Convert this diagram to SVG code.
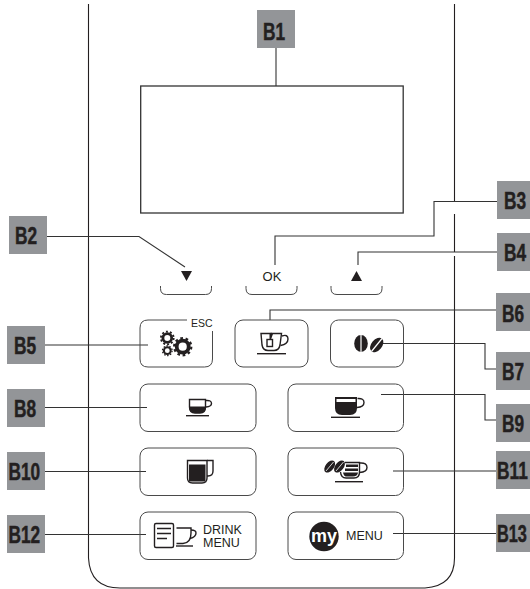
<svg xmlns="http://www.w3.org/2000/svg" width="530" height="589" viewBox="0 0 530 589">
<style>
.lb{fill:#939598}
.lt{font-family:"Liberation Sans",Arial,sans-serif;font-weight:700;font-size:24px;fill:#231f20;stroke:#231f20;stroke-width:.5}
.ln{fill:none;stroke:#333;stroke-width:1.1}
.out{fill:none;stroke:#231f20;stroke-width:1.1}
.btn{fill:none;stroke:#4a4a4a;stroke-width:1}
.tx{font-family:"Liberation Sans",Arial,sans-serif;fill:#231f20}
.ic{fill:none;stroke:#231f20;stroke-width:1.4}
.d{fill:#231f20}
.w{fill:none;stroke:#fff}
</style>
<defs>
<rect id="box" class="lb" width="38" height="38"/>
<rect id="boxr" class="lb" width="34" height="38"/>
<path id="br" class="btn" d="M0 286v2.500q0 6 6 6h39q6 0 6-6V286"/>
</defs>
<g id="device">
<path class="out" d="M88.500 4V558Q90 588 120 588H425Q454.500 586 454.500 558V256M454.500 252V214M454.500 201V4"/>
<rect x="140.700" y="86" width="262.500" height="127" fill="none" stroke="#333" stroke-width="1.300"/>
</g>
<g id="connectors">
<path class="ln" d="M276 48V86"/>
<path class="ln" d="M47 236.500H139L185 267"/>
<path class="ln" d="M497 201.500H434V236H275V265"/>
<path class="ln" d="M497 252H358V265"/>
<path class="ln" d="M45 345H148"/>
<path class="ln" d="M496 310H270V320"/>
<path class="ln" d="M383 343.500H485V369H496"/>
<path class="ln" d="M45 407.500H147"/>
<path class="ln" d="M381 394.500H485V420H496"/>
<path class="ln" d="M45 471.500H146"/>
<path class="ln" d="M393 471H496"/>
<path class="ln" d="M45 534.500H146"/>
<path class="ln" d="M393 533.500H496"/>
</g>
<g id="btn-down"><path class="d" d="M181 271H192L186.500 281Z"/><use href="#br" x="160.500"/></g>
<g id="btn-ok"><text class="tx" x="272" y="281" font-size="13" text-anchor="middle">OK</text><use href="#br" x="246"/></g>
<g id="btn-up"><path class="d" d="M351 281H362L356.500 271Z"/><use href="#br" x="331"/></g>
<g id="btn-settings">
<path class="btn" d="M187 320H148Q140 320 140 328V359Q140 367 148 367H204.500Q212.500 367 212.500 359V331"/>
<text class="tx" x="191" y="327" font-size="10.500">ESC</text>
<g fill="none" stroke="#231f20">
<circle cx="182.700" cy="346.700" r="6" stroke-width="3.800"/>
<circle cx="182.700" cy="346.700" r="8.600" stroke-width="2.200" stroke-dasharray="2.700 2.700"/>
<circle cx="167.300" cy="338" r="4.400" stroke-width="2.800"/>
<circle cx="167.300" cy="338" r="6.400" stroke-width="1.800" stroke-dasharray="2 2"/>
<circle cx="167.300" cy="350.700" r="3.400" stroke-width="2"/>
<circle cx="167.300" cy="350.700" r="4.800" stroke-width="1.300" stroke-dasharray="1.500 1.520"/>
</g>
</g>
<g id="btn-tea">
<rect class="btn" x="235" y="320" width="73" height="47" rx="8"/>
<path class="ic" d="M261 333.500H281.500L280 345Q279 350.500 274 350.500H268Q263 350.500 262 345Z"/>
<path class="ic" d="M282 336Q288 334 288 339Q288 344 280.500 345.500"/>
<rect class="ic" x="267" y="339.500" width="5.500" height="7"/>
<path class="d" d="M269.500 339.500V334.500L271 332.500L273 334L271 339.500Z"/>
<path class="ic" d="M257 353.700H286"/>
</g>
<g id="btn-beans">
<rect class="btn" x="330.500" y="320" width="73" height="47" rx="8"/>
<ellipse class="d" cx="361" cy="343.500" rx="6.800" ry="8.500"/>
<path class="w" stroke-width="1.200" d="M361 334V353"/>
<ellipse class="d" cx="376.700" cy="345" rx="5.300" ry="8.300" transform="rotate(40 376.700 345)"/>
<path class="w" stroke-width="1.200" d="M371.500 351.500L382 338.500"/>
</g>
<g id="btn-small-cup">
<rect class="btn" x="140" y="384" width="116" height="47.500" rx="8"/>
<path class="ic" d="M189.500 399.500H205.500V407Q205.500 413 200 413H195Q189.500 413 189.500 407Z"/>
<path class="d" d="M189.500 406.500H205.500V408Q205.500 413 200 413H195Q189.500 413 189.500 408Z"/>
<path class="ic" d="M206 400.500Q211.500 400 211.500 403.500Q211.500 406.500 206 407"/>
<path class="ic" d="M186 415.700H209"/>
</g>
<g id="btn-large-cup">
<rect class="btn" x="288" y="384" width="115.500" height="47.500" rx="8"/>
<path class="d" d="M335 397H357V408Q357 415 350 415H342Q335 415 335 408Z"/>
<rect x="336.500" y="399" width="19" height="3" fill="#fff"/>
<path class="ic" d="M357.500 398.500Q364 398 364 402.500Q364 407 357 407.500"/>
<path class="ic" d="M331 417.300H360"/>
</g>
<g id="btn-mug">
<rect class="btn" x="140" y="448" width="116" height="47.500" rx="8"/>
<path class="ic" d="M187.500 460.500H207V478Q207 483 202 483H192.500Q187.500 483 187.500 478Z"/>
<rect class="d" x="189" y="464.500" width="16.500" height="17"/>
<path class="ic" d="M207 460.500H213V471Q213 476 208 476H207"/>
</g>
<g id="btn-bean-cup">
<rect class="btn" x="288" y="448" width="115.500" height="47.500" rx="8"/>
<ellipse class="d" cx="329.700" cy="466.500" rx="4.200" ry="7" transform="rotate(38 329.700 466.500)"/>
<path class="w" stroke-width=".8" d="M326 471L333.500 462"/>
<ellipse class="d" cx="339.500" cy="466.500" rx="4.200" ry="7" transform="rotate(38 339.500 466.500)"/>
<path class="w" stroke-width=".8" d="M336 471L343.500 462"/>
<path class="ic" d="M345 462.500H359.500V472Q359.500 478 354 478H346Q341 478 340.500 472"/>
<path class="d" d="M346 464.500H358V467H346ZM345 468.500H358V471H345ZM343 472.500H358Q357.500 476.500 353 476.500H346Q344 476.500 343 472.500Z"/>
<path class="ic" d="M360 463Q367 462.500 367 467.500Q367 472 359.500 472.500"/>
<path class="ic" d="M335 481.700H363"/>
</g>
<g id="btn-drink-menu">
<rect class="btn" x="140" y="512" width="116" height="47.500" rx="8"/>
<rect class="ic" x="154.500" y="523.500" width="19" height="24" rx="1.500"/>
<path class="ic" stroke-width="1.500" d="M157 528.500H171M157 533.500H171M157 538.500H167"/>
<path class="ic" d="M176.500 528H191V533Q191 543 183 543.500H176.500"/>
<path class="ic" d="M191 530Q196 530 196 533Q196 537 190 538.500"/>
<path class="ic" d="M176 546H193"/>
<text class="tx" x="203" y="534" font-size="12.500">DRINK</text>
<text class="tx" x="203" y="547" font-size="12.500">MENU</text>
</g>
<g id="btn-my-menu">
<rect class="btn" x="288" y="512" width="115.500" height="47.500" rx="8"/>
<circle class="d" cx="324" cy="536.500" r="14.700"/>
<text x="324" y="541.500" font-family="Liberation Sans, Arial, sans-serif" font-weight="700" font-size="18" fill="#fff" text-anchor="middle">my</text>
<text class="tx" x="346" y="540" font-size="12.500">MENU</text>
</g>
<g id="label-B1"><use href="#box" x="257" y="10"/><text class="lt" transform="translate(263 40) scale(.72 1)">B1</text></g>
<g id="label-B2"><use href="#box" x="9" y="216"/><text class="lt" transform="translate(15 244) scale(.72 1)">B2</text></g>
<g id="label-B3"><use href="#boxr" x="497" y="181" width="33"/><text class="lt" transform="translate(504 209) scale(.72 1)">B3</text></g>
<g id="label-B4"><use href="#boxr" x="497" y="233"/><text class="lt" transform="translate(504 261) scale(.72 1)">B4</text></g>
<g id="label-B5"><use href="#box" x="7" y="326"/><text class="lt" transform="translate(14 354) scale(.72 1)">B5</text></g>
<g id="label-B6"><use href="#boxr" x="496" y="293"/><text class="lt" transform="translate(502 322) scale(.72 1)">B6</text></g>
<g id="label-B7"><use href="#boxr" x="496" y="352"/><text class="lt" transform="translate(502 380) scale(.72 1)">B7</text></g>
<g id="label-B8"><use href="#box" x="7" y="389"/><text class="lt" transform="translate(14 417) scale(.72 1)">B8</text></g>
<g id="label-B9"><use href="#boxr" x="496" y="404"/><text class="lt" transform="translate(502 432) scale(.72 1)">B9</text></g>
<g id="label-B10"><use href="#box" x="7" y="452"/><text class="lt" transform="translate(8.500 480) scale(.72 1)">B10</text></g>
<g id="label-B11"><use href="#boxr" x="496" y="451"/><text class="lt" transform="translate(497 479) scale(.72 1)">B11</text></g>
<g id="label-B12"><use href="#box" x="7" y="515"/><text class="lt" transform="translate(8.500 543) scale(.72 1)">B12</text></g>
<g id="label-B13"><use href="#boxr" x="496" y="514"/><text class="lt" transform="translate(497 542) scale(.68 1)">B13</text></g>
</svg>
